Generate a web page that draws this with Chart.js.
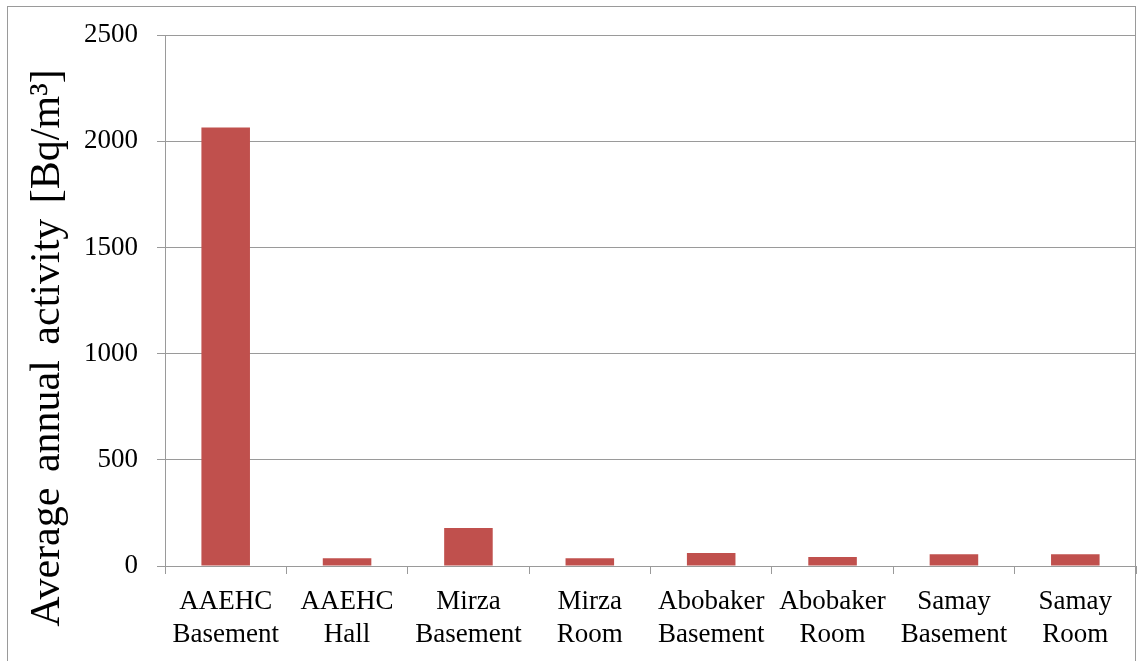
<!DOCTYPE html>
<html>
<head>
<meta charset="utf-8">
<title>Average annual activity</title>
<script src="https://cdn.jsdelivr.net/npm/chart.js@4/dist/chart.umd.min.js"></script>
<style>
    html, body {
        margin: 0;
        padding: 0;
        background: #ffffff;
        overflow: hidden;
    }
    #wrap {
        position: relative;
        width: 1138px;
        height: 661px;
    }
    #frame {
        position: absolute;
        left: 7px;
        top: 6px;
        width: 1129px;
        height: 700px;
        border: 1px solid #9a9a9a;
        box-sizing: border-box;
    }
    #radonChart {
        position: absolute;
        left: 0;
        top: 0;
    }
</style>
</head>
<body>
<div id="wrap">
    <div id="frame"></div>
    <canvas id="radonChart" width="1138" height="661"></canvas>
</div>
<script>
const sites = [
    ["AAEHC", "Basement"],
    ["AAEHC", "Hall"],
    ["Mirza", "Basement"],
    ["Mirza", "Room"],
    ["Abobaker", "Basement"],
    ["Abobaker", "Room"],
    ["Samay", "Basement"],
    ["Samay", "Room"],
];
const activity = [2065, 37, 179, 37, 61, 42, 55, 55];
const yTicks = [0, 500, 1000, 1500, 2000, 2500];
const yTitle = "Average annual activity [Bq/m³]";

const serif = "'Liberation Serif', 'Times New Roman', serif";

// rotated axis title, placed to the left of the tick labels
const axisTitle = {
    id: "axisTitle",
    afterDraw(chart) {
        const ctx = chart.ctx;
        ctx.save();
        ctx.translate(48, 348);
        ctx.rotate(-Math.PI / 2);
        ctx.font = `42px ${serif}`;
        ctx.wordSpacing = "5px";
        ctx.fillStyle = "#000000";
        ctx.textAlign = "center";
        ctx.textBaseline = "middle";
        ctx.fillText(yTitle, 0, 0);
        ctx.restore();
    },
};

const ctx = document.getElementById("radonChart").getContext("2d");
new Chart(ctx, {
    type: "bar",
    data: {
        labels: sites,
        datasets: [
            {
                data: activity,
                backgroundColor: "#c0504d",
                borderColor: "#c0504d",
                borderWidth: 0,
                barPercentage: 0.4,
                categoryPercentage: 1,
            },
        ],
    },
    options: {
        responsive: false,
        animation: false,
        layout: {
            padding: { left: 0, top: 31, right: 2, bottom: 0 },
        },
        plugins: {
            legend: { display: false },
            tooltip: { enabled: false },
        },
        scales: {
            x: {
                grid: {
                    display: true,
                    drawOnChartArea: false,
                    drawTicks: true,
                    tickLength: 8,
                    offset: true,
                    color: "#9a9a9a",
                },
                border: { color: "#9a9a9a", width: 1 },
                ticks: {
                    color: "#000000",
                    padding: 12,
                    maxRotation: 0,
                    autoSkip: false,
                    font: { family: serif, size: 27, lineHeight: 1.2 },
                },
                afterFit(scale) {
                    scale.height = 95;
                },
            },
            y: {
                min: 0,
                max: 2500,
                afterBuildTicks(scale) {
                    scale.ticks = yTicks.map((v) => ({ value: v }));
                },
                grid: {
                    color: "#9a9a9a",
                    tickLength: 8,
                    drawTicks: true,
                },
                border: { color: "#9a9a9a", width: 1 },
                ticks: {
                    color: "#000000",
                    padding: 19,
                    font: { family: serif, size: 27 },
                    callback: (value) => String(value),
                },
                afterFit(scale) {
                    scale.width = 165;
                },
            },
        },
    },
    plugins: [axisTitle],
});
</script>
</body>
</html>
